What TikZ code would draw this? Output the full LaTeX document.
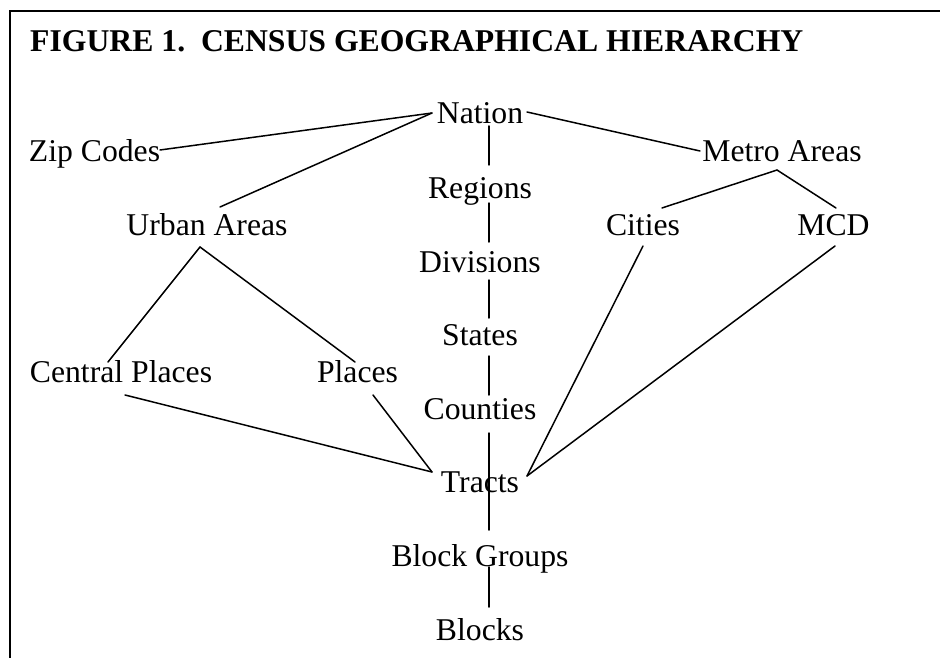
\documentclass[tikz,border=0pt]{standalone}
\usepackage{fontspec}
\setmainfont{Liberation Serif}
\usetikzlibrary{calc}
\frenchspacing
\begin{document}
\begin{tikzpicture}[x=1pt,y=-1pt,
  lbl/.style={inner sep=0pt,anchor=base,font=\fontsize{31.7}{38}\selectfont},
  ttl/.style={inner sep=0pt,anchor=base west,font=\fontsize{31.7}{38}\selectfont\bfseries},
  conn/.style={line width=1.5pt,line cap=round},
  frame/.style={line width=1.8pt}]
\useasboundingbox (0,0) rectangle (940,658);
\draw[frame] (10,658) -- (10,11) -- (940,11);
\node[ttl] (title) at (30,52) {FIGURE 1.\ \ CENSUS GEOGRAPHICAL HIERARCHY};
% central column
\node[lbl] (nation)  at (480,124) {Nation};
\node[lbl] (regions) at (480,198) {Regions};
\node[lbl] (divs)    at (480,272) {Divisions};
\node[lbl] (states)  at (480,345) {States};
\node[lbl] (counties) at (480,419) {Counties};
\node[lbl] (tracts)  at (480,492) {Tracts};
\node[lbl] (bgroups) at (480,566) {Block Groups};
\node[lbl] (blocks)  at (480,640) {Blocks};
% side nodes
\node[lbl] (zip)     at (94.5,162) {Zip Codes};
\node[lbl] (metro)   at (782,162) {Metro Areas};
\node[lbl] (urban)   at (207,235) {Urban Areas};
\node[lbl] (cities)  at (643,235) {Cities};
\node[lbl] (mcd)     at (833.5,235) {MCD};
\node[lbl] (central) at (121,382) {Central Places};
\node[lbl] (places)  at (357.5,382) {Places};
% connectors
\draw[conn] ($(zip.base)+(65.5,-12)$) -- ($(nation.base)+(-48,-11)$);
\draw[conn] ($(urban.base)+(13,-28)$) -- ($(nation.base)+(-48,-11)$);
\draw[conn] ($(nation.base)+(47,-12)$) -- ($(metro.base)+(-82,-11)$);
\draw[conn] ($(metro.base)+(-5,8)$) -- ($(cities.base)+(19,-27)$);
\draw[conn] ($(metro.base)+(-5,8)$) -- ($(mcd.base)+(2.5,-27)$);
\draw[conn] ($(urban.base)+(-7,12)$) -- ($(central.base)+(-13,-20)$);
\draw[conn] ($(urban.base)+(-7,12)$) -- ($(places.base)+(-2.5,-20)$);
\draw[conn] ($(central.base)+(4,13)$) -- ($(tracts.base)+(-48,-20)$);
\draw[conn] ($(places.base)+(15.5,13)$) -- ($(tracts.base)+(-48,-20)$);
\draw[conn] ($(cities.base)+(0,11)$) -- ($(tracts.base)+(47,-16)$);
\draw[conn] ($(mcd.base)+(1.5,11)$) -- ($(tracts.base)+(47,-16)$);
\draw[conn] ($(nation.base)+(9,2)$) -- ($(regions.base)+(9,-33)$);
\draw[conn] ($(regions.base)+(9,5)$) -- ($(divs.base)+(9,-30)$);
\draw[conn] ($(divs.base)+(9,8)$) -- ($(states.base)+(9,-27)$);
\draw[conn] ($(states.base)+(9,11)$) -- ($(counties.base)+(9,-24)$);
\draw[conn] ($(counties.base)+(9,14)$) -- ($(bgroups.base)+(9,-36)$);
\draw[conn] ($(bgroups.base)+(9,1)$) -- ($(blocks.base)+(9,-33)$);
\end{tikzpicture}
\end{document}
